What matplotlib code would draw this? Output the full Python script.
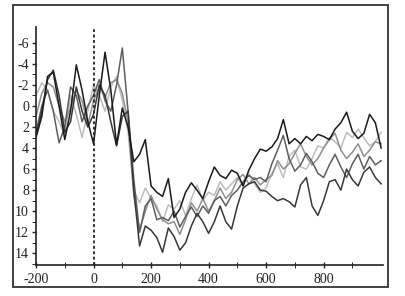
import numpy as np
import matplotlib.pyplot as plt
from matplotlib.patches import Rectangle

# ---- time axis (ms) ----
t = np.arange(-200, 1001, 20)

# ---- waveforms ----
wave_black = [3.0, 1.0, -2.8, -3.2, 0.0, 3.2, 0.5, -3.9, -1.5, 1.5,
              3.6, -1.0, -5.1, -1.5, 3.7, 0.2, 2.0, 5.3, 4.6, 3.2,
              7.6, 8.2, 8.6, 6.9, 10.6, 9.8, 8.2, 7.3, 8.0, 8.8,
              7.2, 5.8, 6.6, 6.9, 6.1, 6.4, 7.6, 6.1, 5.0, 4.1,
              4.3, 3.9, 3.1, 1.3, 3.6, 3.1, 3.6, 2.9, 3.3, 2.7,
              2.9, 3.2, 2.2, 1.6, 0.6, 2.4, 3.1, 2.6, 0.8, 1.6, 4.0]
wave_dark = [2.8, 0.5, -2.5, -3.4, -1.0, 2.5, 1.5, -1.8, 0.5, 2.0,
             0.8, -2.0, -1.0, 1.5, 3.8, 1.0, 0.5, 8.0, 13.3, 11.4,
             11.8, 12.5, 13.9, 11.6, 12.4, 13.7, 13.0, 11.4, 10.2, 11.0,
             12.1, 11.0, 9.5, 11.0, 11.7, 9.5, 7.8, 7.4, 7.2, 8.0,
             8.1, 8.6, 9.0, 8.8, 9.1, 9.6, 7.5, 6.8, 9.5, 10.4,
             9.0, 7.2, 7.0, 8.0, 6.0, 7.0, 7.6, 6.3, 5.8, 6.8, 7.4]
wave_mid = [2.5, 0.0, -1.5, 0.5, 3.5, 2.0, -1.8, -1.0, 1.5, 0.0,
            -1.0, -2.5, -0.5, 0.5, -2.0, -5.5, 0.5, 7.0, 12.0, 9.5,
            8.8, 10.8, 10.6, 10.9, 10.0, 11.5, 10.5, 9.6, 10.5, 9.5,
            10.2, 9.0, 8.6, 9.5, 8.5, 8.0, 7.2, 6.6, 7.0, 6.8,
            7.2, 5.5, 4.2, 2.8, 5.0, 6.2, 5.6, 4.5, 5.3, 6.4,
            6.8, 5.6, 4.6, 5.8, 6.8, 5.5, 4.6, 6.0, 4.8, 5.6, 5.2]
wave_gray = [1.0, -1.2, -2.2, -1.8, 0.0, 1.5, 0.2, -1.5, -0.5, 1.8,
             -0.5, -1.8, -0.8, -2.2, -2.5, -1.2, 1.5, 8.5, 11.8, 10.0,
             8.5, 9.8, 10.8, 11.2, 11.0, 12.2, 10.8, 9.2, 10.0, 8.8,
             10.0, 9.0, 7.8, 8.8, 8.2, 7.0, 6.5, 7.4, 6.8, 7.5,
             7.0, 6.6, 5.2, 6.0, 5.5, 4.5, 3.6, 4.8, 5.6, 5.0,
             4.0, 3.2, 2.6, 4.2, 5.0, 4.4, 3.6, 4.8, 4.2, 3.4, 3.6]
wave_light = [-1.0, -2.2, -1.5, 0.5, 1.5, 2.8, -1.0, 0.8, 3.0, 0.5,
              -2.0, -1.0, 0.5, -1.8, -2.8, -0.5, 2.5, 8.0, 9.2, 7.8,
              8.8, 9.5, 11.0, 9.4, 9.8, 9.0, 10.4, 8.8, 7.5, 9.0,
              8.2, 8.5, 7.2, 8.0, 7.4, 6.8, 7.6, 6.4, 7.4, 8.2,
              7.8, 6.4, 5.5, 6.8, 4.8, 4.2, 5.8, 6.0, 5.0, 3.8,
              4.0, 3.0, 3.4, 4.0, 2.5, 3.0, 2.2, 3.0, 3.8, 3.4, 2.5]

waves = [wave_light, wave_gray, wave_mid, wave_dark, wave_black]
shades = ["#bdbdbd", "#8f8f8f", "#5e5e5e", "#383838", "#1a1a1a"]

plt.rcParams['font.family'] = 'Liberation Serif'
plt.rcParams['axes.unicode_minus'] = False

fig = plt.figure(figsize=(4.05, 2.96), dpi=100)
ax = fig.add_axes([0.089, 0.105, 0.857, 0.804])

for w, c in zip(waves, shades):
    ax.plot(t, w, color=c, lw=1.1)

ax.axvline(0, color="#222222", lw=1.3, ls=(0, (1.6, 1.4)))

ax.set_xlim(-200, 1007)
ax.set_ylim(15.1, -7.5)
ax.set_xticks([-200, 0, 200, 400, 600, 800])
ax.set_xticks(np.arange(-100, 1000, 200), minor=True)
ax.set_yticks(np.arange(-6, 15, 2))
ax.set_yticks(np.arange(-5, 16, 2), minor=True)
ax.tick_params(axis="both", labelsize=10, colors="#222222", width=1.0)
ax.tick_params(axis="x", which="both", direction="inout", length=5, pad=3)
ax.tick_params(axis="y", which="both", direction="out", length=3, pad=2)
for s in ["top", "right"]:
    ax.spines[s].set_visible(False)
for s in ["left", "bottom"]:
    ax.spines[s].set_linewidth(1.2)
    ax.spines[s].set_color("#222222")

# frame around the whole panel
fig.patches.append(Rectangle((0.032, 0.030), 0.926, 0.953, transform=fig.transFigure,
                             fill=False, lw=1.3, ec="#333333"))

fig.savefig("out.png", dpi=100)
